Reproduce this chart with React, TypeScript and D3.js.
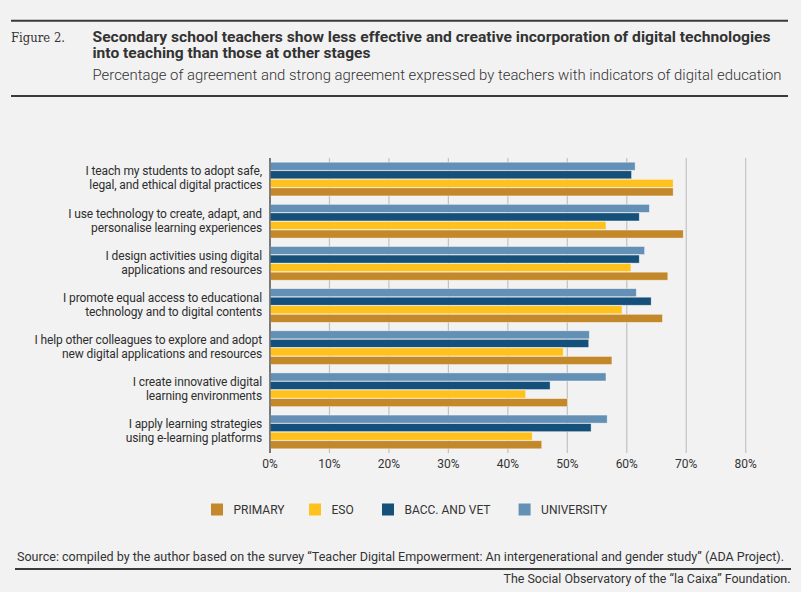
import { useEffect } from "react";
import * as d3 from "d3";

// Categorías (dos líneas por etiqueta)
const CATEGORIAS: string[][] = [
  ["I teach my students to adopt safe,", "legal, and ethical digital practices"],
  ["I use technology to create, adapt, and", "personalise learning experiences"],
  ["I design activities using digital", "applications and resources"],
  ["I promote equal access to educational", "technology and to digital contents"],
  ["I help other colleagues to explore and adopt", "new digital applications and resources"],
  ["I create innovative digital", "learning environments"],
  ["I apply learning strategies", "using e-learning platforms"]
];

const PRIMARY = [67.8, 69.5, 66.9, 66.0, 57.5, 50.0, 45.7];
const ESO = [67.8, 56.5, 60.7, 59.2, 49.3, 43.0, 44.1];
const BACC = [60.8, 62.1, 62.1, 64.1, 53.6, 47.1, 54.0];
const UNIVERSITY = [61.4, 63.8, 63.0, 61.6, 53.7, 56.5, 56.7];

const TICKS = [0, 10, 20, 30, 40, 50, 60, 70, 80];

const SERIES = [
  { key: "UNIVERSITY", values: UNIVERSITY, color: "#6490b6" },
  { key: "BACC. AND VET", values: BACC, color: "#14507a" },
  { key: "ESO", values: ESO, color: "#fec11d" },
  { key: "PRIMARY", values: PRIMARY, color: "#c3882a" }
];

// orden de la leyenda
const LEYENDA = ["PRIMARY", "ESO", "BACC. AND VET", "UNIVERSITY"];

const W = 801;
const H = 592;
const FONT = "Roboto, 'Noto Sans', sans-serif";

const App = () => {
  useEffect(() => {
    document.body.style.margin = "0";
    document.body.style.background = "#f2f2f2";
  }, []);

  const x = d3.scaleLinear().domain([0, 80]).range([270, 745.7]);
  const y = d3
    .scaleBand<number>()
    .domain(d3.range(CATEGORIAS.length))
    .range([158, 453])
    .paddingInner(0.2)
    .paddingOuter(0.1);
  const ySub = d3
    .scaleBand<string>()
    .domain(SERIES.map((s) => s.key))
    .range([0, y.bandwidth()])
    .paddingInner(0.06);

  const legendX: Record<string, number> = {
    PRIMARY: 211,
    ESO: 309,
    "BACC. AND VET": 382,
    UNIVERSITY: 518.6
  };
  const colorOf = (k: string) => SERIES.find((s) => s.key === k)?.color ?? "#999";

  return (
    <svg width={W} height={H} style={{ display: "block", background: "#f2f2f2" }}>
      {/* Cabecera */}
      <line x1={11} x2={788} y1={20.7} y2={20.7} stroke="#3a3a3a" strokeWidth={2} />
      <text x={11} y={41.7} fontFamily="'DejaVu Serif', 'Liberation Serif', serif" fontSize={13}
        fill="#333" textLength={54} lengthAdjust="spacingAndGlyphs">Figure 2.</text>
      <text x={92.5} y={41.7} fontFamily={FONT} fontWeight={700} fontSize={14} fill="#333"
        textLength={678} lengthAdjust="spacingAndGlyphs">
        Secondary school teachers show less effective and creative incorporation of digital technologies
      </text>
      <text x={92.5} y={58.3} fontFamily={FONT} fontWeight={700} fontSize={14} fill="#333"
        textLength={278} lengthAdjust="spacingAndGlyphs">
        into teaching than those at other stages
      </text>
      <text x={92.5} y={80} fontFamily={FONT} fontWeight={300} fontSize={14} fill="#333"
        textLength={689} lengthAdjust="spacingAndGlyphs">
        Percentage of agreement and strong agreement expressed by teachers with indicators of digital education
      </text>
      <line x1={11} x2={788} y1={96} y2={96} stroke="#3a3a3a" strokeWidth={2} />

      {/* Rejilla */}
      {TICKS.map((t) => (
        <line key={t} x1={x(t)} x2={x(t)} y1={158} y2={453}
          stroke={t === 0 ? "#666" : "#c2c2c2"} strokeWidth={t === 0 ? 1.3 : 1.2} />
      ))}
      {TICKS.map((t) => (
        <text key={`t${t}`} x={x(t)} y={468} textAnchor="middle" fontFamily={FONT}
          fontSize={12} fill="#333">{`${t}%`}</text>
      ))}

      {/* Barras */}
      {CATEGORIAS.map((cat, i) => {
        const y0 = y(i) ?? 0;
        const cy = y0 + y.bandwidth() / 2;
        return (
          <g key={i}>
            {SERIES.map((s) => (
              <rect key={s.key} x={x(0)} y={y0 + (ySub(s.key) ?? 0)}
                width={x(s.values[i]) - x(0)} height={ySub.bandwidth()}
                fill={s.color} stroke="rgba(255,255,255,0.55)" strokeWidth={0.7} />
            ))}
            <text textAnchor="end" fontFamily={FONT} fontSize={12} fill="#2e2e2e"
              letterSpacing={-0.12}>
              <tspan x={262} y={cy - 3.7}>{cat[0]}</tspan>
              <tspan x={262} y={cy + 10.3}>{cat[1]}</tspan>
            </text>
          </g>
        );
      })}
      <line x1={x(0)} x2={x(0)} y1={158} y2={453} stroke="#666" strokeWidth={1.3} />

      {/* Leyenda */}
      {LEYENDA.map((k) => (
        <g key={k}>
          <rect x={legendX[k]} y={503.5} width={12} height={12} fill={colorOf(k)} />
          <text x={legendX[k] + 22.5} y={514} fontFamily={FONT} fontSize={12} fill="#333">{k}</text>
        </g>
      ))}

      {/* Fuente */}
      <text x={17} y={560.5} fontFamily={FONT} fontSize={12} fill="#333"
        textLength={767} lengthAdjust="spacingAndGlyphs">
        Source: compiled by the author based on the survey “Teacher Digital Empowerment: An intergenerational and gender study” (ADA Project).
      </text>
      <line x1={15} x2={791} y1={569} y2={569} stroke="#3a3a3a" strokeWidth={2} />
      <text x={790.5} y={582.7} textAnchor="end" fontFamily={FONT} fontSize={12} fill="#333"
        textLength={287} lengthAdjust="spacingAndGlyphs">
        The Social Observatory of the “la Caixa” Foundation.
      </text>
    </svg>
  );
};

export default App;
